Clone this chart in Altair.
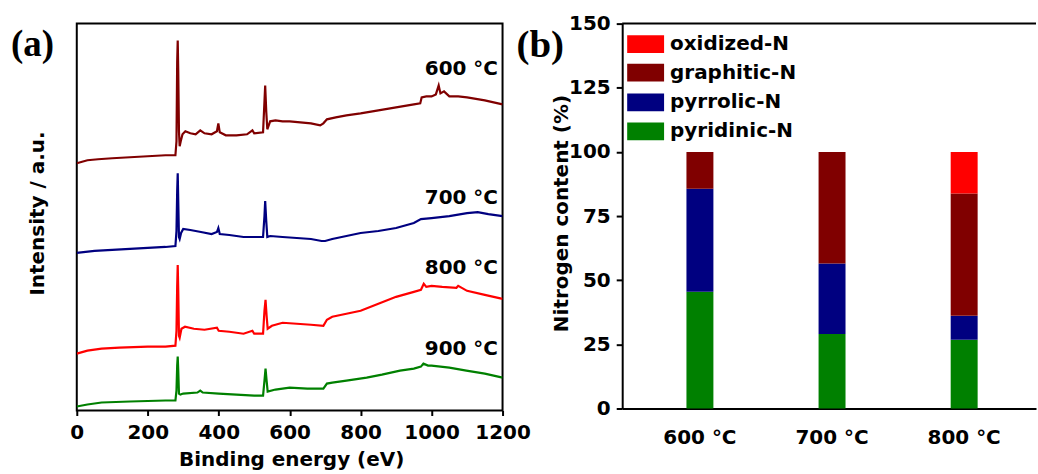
import altair as alt
import pandas as pd

# ---------------- Panel (a): XPS survey spectra (arbitrary intensity units) ----------------
E600 = [0, 30, 60, 100, 150, 200, 250, 278, 281, 283, 284.5, 286, 288, 290, 293, 298,
        306, 320, 335, 348, 360, 380, 395, 399, 403, 420, 450, 480, 495, 500, 525, 529,
        531, 534, 537, 545, 560, 580, 600, 630, 660, 686, 695, 705, 730, 760, 800, 850,
        900, 950, 968, 972, 985, 1000, 1012, 1020, 1025, 1035, 1050, 1075, 1100, 1150, 1200]
I600 = [248, 251, 252, 253, 254, 255, 256, 256, 270, 350, 371, 340, 280, 265, 270, 277,
        280, 278, 277, 281, 278, 277, 280, 288, 279, 276, 276, 277, 281, 278, 279, 310,
        326, 300, 282, 290, 291, 290, 290, 289, 288, 286, 288, 292, 294, 296, 298, 301,
        304, 307, 308, 314, 315, 315, 317, 326, 318, 320, 315, 315, 314, 311, 307]

E700 = [0, 50, 100, 150, 200, 250, 278, 281, 283, 284.5, 286, 288, 290, 294, 300, 320,
        350, 380, 395, 399, 403, 430, 470, 500, 525, 529, 531, 534, 537, 545, 580, 620,
        660, 690, 700, 720, 760, 800, 850, 900, 950, 970, 1000, 1050, 1100, 1130, 1160, 1200]
I700 = [158, 160, 161, 162, 163, 164, 165, 180, 220, 238, 210, 174, 172, 178, 182, 181,
        179, 177, 179, 183, 177, 176, 174, 174, 174, 195, 210, 190, 174, 175, 174, 173,
        172, 170, 170, 172, 175, 178, 180, 183, 188, 192, 193, 195, 198, 199, 197, 195]

E800 = [0, 30, 70, 120, 200, 250, 278, 281, 283, 284.5, 286, 288, 290, 295, 305, 330,
        360, 395, 400, 430, 470, 495, 500, 525, 529, 532, 535, 538, 550, 580, 620, 660,
        695, 705, 720, 760, 800, 850, 900, 950, 970, 978, 985, 1000, 1030, 1070, 1075, 1100,
        1150, 1200]
I800 = [57, 60, 62, 63, 64, 64, 65, 80, 125, 146, 120, 75, 73, 82, 84, 82,
        81, 83, 80, 79, 77, 80, 77, 77, 100, 111, 95, 82, 85, 88, 87, 86,
        85, 91, 94, 97, 100, 107, 114, 119, 121, 127, 124, 125, 124, 123, 125, 120,
        116, 112]

E900 = [0, 30, 70, 150, 250, 278, 281, 283, 284.5, 286, 288, 292, 300, 340, 348, 355,
        400, 450, 500, 525, 529, 532, 535, 538, 560, 600, 650, 695, 705, 720, 760, 817,
        860, 911, 950, 970, 977, 990, 1000, 1050, 1098, 1150, 1200]
I900 = [4, 6, 8, 9, 10, 10, 20, 45, 54, 40, 17, 16, 17, 18, 20, 18,
        17, 16, 15, 15, 30, 42, 30, 19, 21, 23, 22, 22, 27, 28, 30, 33,
        36, 40, 42, 44, 47, 45, 45, 43, 40, 37, 33]

series_names = ["600 °C", "700 °C", "800 °C", "900 °C"]
series_colors = ["#800000", "#000080", "#FF0000", "#008000"]
curve_label_energy = [1187, 1187, 1187, 1187]
curve_label_intensity = [336, 207, 137, 56]

# ---------------- Panel (b): nitrogen species ----------------
temps = ["600 °C", "700 °C", "800 °C"]
species = ["pyridinic-N", "pyrrolic-N", "graphitic-N", "oxidized-N"]
species_colors = ["#008000", "#000080", "#800000", "#FF0000"]
pyridinic = [45.5, 29.0, 26.8]
pyrrolic = [40.1, 27.5, 9.3]
graphitic = [14.4, 43.5, 47.7]
oxidized = [0.0, 0.0, 16.2]

legend_order = ["oxidized-N", "graphitic-N", "pyrrolic-N", "pyridinic-N"]
legend_center = [142.0, 130.9, 119.3, 108.0]
legend_half = 3.5

FONT = "DejaVu Sans"
SERIF = "Liberation Serif"
FS = 20

# ---- build tables ----
rows = []
for name, col, E, I in zip(series_names, series_colors,
                           [E600, E700, E800, E900], [I600, I700, I800, I900]):
    for e, i in zip(E, I):
        rows.append({"series": name, "col": col, "energy": e, "intensity": i})
spec_df = pd.DataFrame(rows)
lab_df = pd.DataFrame({"series": series_names, "energy": curve_label_energy,
                       "intensity": curve_label_intensity})

sp_color = dict(zip(species, species_colors))
bar_rows = []
for k, (sp, vals) in enumerate(zip(species, [pyridinic, pyrrolic, graphitic, oxidized])):
    for t, v in zip(temps, vals):
        bar_rows.append({"temp": t, "species": sp, "col": sp_color[sp], "value": v, "rank": k})
bar_df = pd.DataFrame(bar_rows)
leg_df = pd.DataFrame({"species": legend_order,
                       "col": [sp_color[s] for s in legend_order],
                       "value": [c + legend_half for c in legend_center],
                       "value2": [c - legend_half for c in legend_center],
                       "mid": legend_center})

W_A, H_A = 427, 388
W_B, H_B = 415, 386

xa = alt.X("energy:Q", scale=alt.Scale(domain=[0, 1200], nice=False),
           axis=alt.Axis(values=list(range(0, 1201, 100)), format="d",
                         labelExpr="datum.value % 200 == 0 ? datum.label : ''",
                         labelOverlap=False, labelFlush=False,
                         title="Binding energy (eV)", tickSize=5, tickWidth=2,
                         tickColor="black", domain=False, grid=False,
                         labelBaseline="alphabetic", labelPadding=23,
                         titleX=215, titleY=55, titleBaseline="alphabetic",
                         titleAlign="center"))
ya = alt.Y("intensity:Q", scale=alt.Scale(domain=[0, 388], nice=False),
           axis=alt.Axis(title="Intensity / a.u.", labels=False, ticks=False,
                         domain=False, grid=False, titleX=-33, titleY=190,
                         titleAngle=270, titleBaseline="alphabetic",
                         titleAlign="center"))

lines = alt.Chart(spec_df).mark_line(strokeWidth=2.2, clip=True).encode(
    x=xa, y=ya, color=alt.Color("col:N", scale=None), detail="series:N",
    order="energy:Q")
curve_labels = alt.Chart(lab_df).mark_text(
    font=FONT, fontSize=FS, fontWeight="bold", align="right", baseline="alphabetic",
    color="black").encode(x="energy:Q", y="intensity:Q", text="series:N")
tag_a = alt.Chart(pd.DataFrame({"t": ["(a)"]})).mark_text(
    font=SERIF, fontSize=37, fontWeight="bold", align="left", baseline="middle",
    color="black").encode(text="t:N", x=alt.value(-66), y=alt.value(21))

panel_a = alt.layer(lines, curve_labels, tag_a).properties(
    width=W_A, height=H_A,
    view=alt.ViewBackground(stroke="black", strokeWidth=2))

xb = alt.X("temp:N", sort=temps,
           scale=alt.Scale(paddingInner=0.796, paddingOuter=0.464, align=0.524),
           axis=alt.Axis(title=None, labelAngle=0, ticks=False, tickSize=0,
                         domainWidth=2, domainColor="black", grid=False,
                         labelBaseline="alphabetic", labelPadding=35))
yb = alt.Y("value:Q", stack="zero", scale=alt.Scale(domain=[0, 150], nice=False),
           axis=alt.Axis(values=[i * 12.5 for i in range(13)],
                         labelExpr="datum.value % 25 == 0 ? datum.label : ''",
                         labelOverlap=False,
                         title="Nitrogen content (%)", tickSize=6, tickWidth=2,
                         tickColor="black", domainWidth=2, domainColor="black",
                         grid=False, labelPadding=6, titleX=-55, titleY=190,
                         titleAngle=270, titleBaseline="alphabetic",
                         titleAlign="center"))

bars = alt.Chart(bar_df).mark_bar().encode(
    x=xb, y=yb, color=alt.Color("col:N", scale=None), detail="species:N",
    order=alt.Order("rank:Q"))
top_rule = alt.Chart(pd.DataFrame({"value": [150]})).mark_rule(
    color="black", strokeWidth=2).encode(y="value:Q", x=alt.value(0), x2=alt.value(W_B))
leg_rect = alt.Chart(leg_df).mark_rect().encode(
    x=alt.value(5), x2=alt.value(42), y="value:Q", y2="value2:Q",
    color=alt.Color("col:N", scale=None))
leg_text = alt.Chart(leg_df).mark_text(
    font=FONT, fontSize=FS, fontWeight="bold", align="left", baseline="middle",
    color="black").encode(x=alt.value(48), y="mid:Q", text="species:N")
tag_b = alt.Chart(pd.DataFrame({"t": ["(b)"]})).mark_text(
    font=SERIF, fontSize=39, fontWeight="bold", align="left", baseline="middle",
    color="black").encode(text="t:N", x=alt.value(-106), y=alt.value(21))

panel_b = alt.layer(bars, top_rule, leg_rect, leg_text, tag_b).properties(
    width=W_B, height=H_B,
    view=alt.ViewBackground(stroke="transparent"))

chart = alt.hconcat(panel_a, panel_b, spacing=120, bounds="flush").properties(
    padding={"left": 10, "top": 12, "right": 0, "bottom": 0},
    background="white",
).configure_axis(
    labelFont=FONT, labelFontSize=FS, labelFontWeight="bold", labelColor="black",
    titleFont=FONT, titleFontSize=FS, titleFontWeight="bold", titleColor="black",
)

chart.save("out.html", embed_options={"renderer": "svg", "actions": False})
